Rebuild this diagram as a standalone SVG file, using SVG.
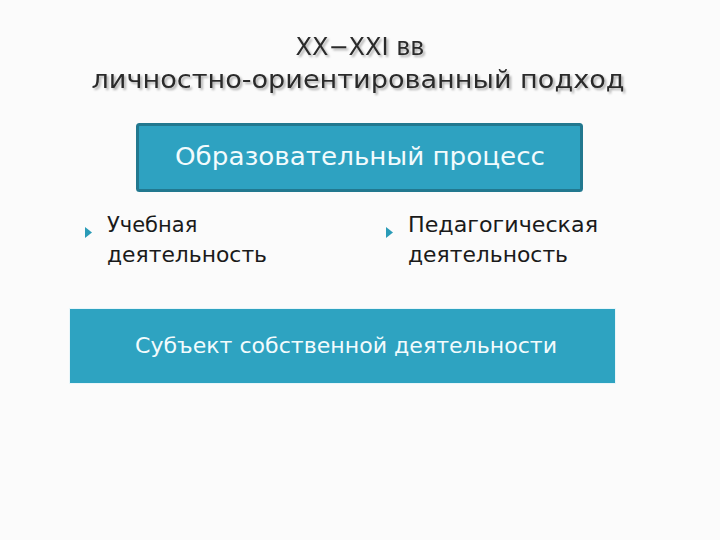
<svg xmlns="http://www.w3.org/2000/svg" width="720" height="540" viewBox="0 0 720 540">
<defs>
<filter id="sh" x="-5%" y="-20%" width="110%" height="150%">
<feDropShadow dx="2" dy="2" stdDeviation="0.8" flood-color="#000" flood-opacity="0.3"/>
</filter>
</defs>
<style>
.title{font-family:"DejaVu Sans","Noto Sans",sans-serif;font-size:24px;fill:#2b2b2b;text-anchor:middle;filter:url(#sh)}
.body{font-family:"DejaVu Sans","Noto Sans",sans-serif;font-size:21px;fill:#1a1a1a}
.boxt{font-family:"DejaVu Sans","Noto Sans",sans-serif;fill:#f2fbfd;text-anchor:middle}
.bullet{fill:#2a9bb7}
</style>
<rect width="720" height="540" fill="#fbfbfb"/>
<g id="title">
<text class="title" x="360" y="55">XX−XXI вв</text>
<text class="title" x="358" y="88" textLength="533" lengthAdjust="spacingAndGlyphs">личностно-ориентированный подход</text>
</g>
<g id="process">
<rect x="137.5" y="124.5" width="444" height="66" fill="#2ea2c1" stroke="#22788f" stroke-width="3" rx="2"/>
<text class="boxt" x="360" y="165" font-size="24" textLength="370" lengthAdjust="spacingAndGlyphs">Образовательный процесс</text>
</g>
<g id="study">
<path class="bullet" d="M85 227 L92 232.5 L85 238 Z"/>
<text class="body" x="107" y="232">Учебная</text>
<text class="body" x="107" y="262" textLength="160" lengthAdjust="spacingAndGlyphs">деятельность</text>
</g>
<g id="pedagogy">
<path class="bullet" d="M386 227 L393 232.5 L386 238 Z"/>
<text class="body" x="408" y="232" textLength="190" lengthAdjust="spacingAndGlyphs">Педагогическая</text>
<text class="body" x="408" y="262" textLength="160" lengthAdjust="spacingAndGlyphs">деятельность</text>
</g>
<g id="subject">
<rect x="69.5" y="308.5" width="546" height="75" fill="#2ea3c1" stroke="#e8f6fa" stroke-width="1"/>
<text class="boxt" x="346" y="353" font-size="22" textLength="422" lengthAdjust="spacingAndGlyphs">Субъект собственной деятельности</text>
</g>
<g id="connectors"></g>
</svg>
